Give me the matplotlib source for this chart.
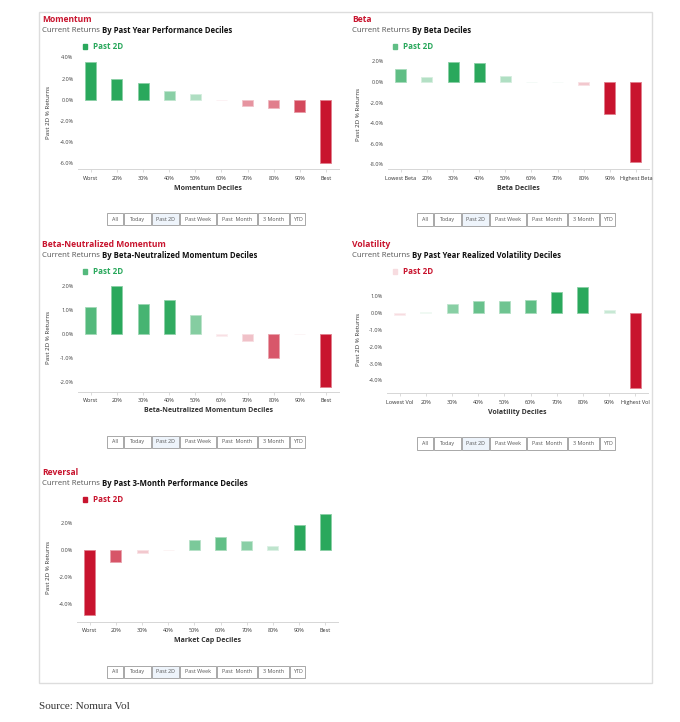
import numpy as np
import matplotlib
matplotlib.use("Agg")
import matplotlib.pyplot as plt
from matplotlib.patches import Rectangle
from matplotlib.colors import to_rgb

plt.rcParams['font.family'] = ['Open Sans', 'DejaVu Sans']

# ---------------- data
deciles = ["Worst", "20%", "30%", "40%", "50%", "60%", "70%", "80%", "90%", "Best"]
beta_labels = ["Lowest Beta", "20%", "30%", "40%", "50%", "60%", "70%", "80%", "90%", "Highest Beta"]
vol_labels = ["Lowest Vol", "20%", "30%", "40%", "50%", "60%", "70%", "80%", "90%", "Highest Vol"]

momentum_vals = [3.60, 1.92, 1.55, 0.79, 0.50, -0.06, -0.63, -0.79, -1.17, -5.96]
beta_vals = [1.27, 0.52, 1.98, 1.82, 0.55, 0.04, 0.0, -0.29, -3.08, -7.82]
bn_momentum_vals = [1.14, 2.00, 1.24, 1.40, 0.78, -0.08, -0.29, -1.00, -0.01, -2.21]
volatility_vals = [-0.08, 0.06, 0.57, 0.75, 0.71, 0.81, 1.27, 1.58, 0.22, -4.42]
reversal_vals = [-4.81, -0.91, -0.22, -0.03, 0.76, 0.93, 0.66, 0.32, 1.87, 2.63]

momentum_ticks = [4, 2, 0, -2, -4, -6]
beta_ticks = [2, 0, -2, -4, -6, -8]
bn_momentum_ticks = [2, 1, 0, -1, -2]
volatility_ticks = [1, 0, -1, -2, -3, -4]
reversal_ticks = [2, 0, -2, -4]

buttons = ["All", "Today", "Past 2D", "Past Week", "Past  Month", "3 Month", "YTD"]
button_widths = [16, 26.4, 27.6, 36, 39.4, 31.3, 15.4]

GREEN = "#2aa85c"
RED = "#c8142e"
W, H = 680, 722

fig = plt.figure(figsize=(W / 100, H / 100), dpi=100)


def fx(x):
    return x / W


def fy(y):
    return 1 - y / H


def blend(c, t):
    c = np.array(to_rgb(c))
    return tuple(1 - t * (1 - c))


def bar_color(v, cap):
    t = min(abs(v) / cap, 1.0)
    t = 0.08 + 0.92 * t
    return blend(GREEN if v >= 0 else RED, t)


renderer = fig.canvas.get_renderer()


def panel(tx, ty, title, sub_plain, sub_bold, labels, vals, ticks, xlabel,
          box, zero_px, px_per, cap):
    # titles
    fig.text(fx(tx), fy(ty), title, color=RED, fontsize=6.1, fontweight="bold", va="center")
    t1 = fig.text(fx(tx), fy(ty + 11.4), sub_plain, color="#555555", fontsize=5.6, va="center")
    wpx = t1.get_window_extent(renderer=renderer).width
    fig.text(fx(tx + wpx), fy(ty + 11.4), sub_bold, color="#111111", fontsize=5.6,
             fontweight="bold", va="center")

    colors = [bar_color(v, cap) for v in vals]
    # legend
    fig.patches.append(Rectangle((fx(tx + 41), fy(ty + 29.5)), 4.4 / W, 4.4 / H,
                                 transform=fig.transFigure, color=colors[0], figure=fig))
    fig.text(fx(tx + 51), fy(ty + 27.4), "Past 2D", color=GREEN if vals[0] >= 0 else RED,
             fontsize=5.8, fontweight="bold", va="center")

    left, top, right, bottom = box
    ax = fig.add_axes([fx(left), fy(bottom), (right - left) / W, (bottom - top) / H])
    x = np.arange(len(vals))
    edges = [blend(c, 0.55) for c in colors]
    ax.bar(x, vals, width=0.42, color=colors, edgecolor=edges, linewidth=0.6)
    ax.set_xlim(-0.5, len(vals) - 0.5)
    ax.set_ylim((zero_px - bottom) / px_per, (zero_px - top) / px_per)
    ax.set_yticks(ticks)
    ax.set_yticklabels([f"{t:.1f}%" for t in ticks], fontsize=4, color="#444444")
    ax.set_xticks(x)
    ax.set_xticklabels(labels, fontsize=4, color="#333333")
    ax.tick_params(axis="y", length=0, pad=3)
    ax.tick_params(axis="x", length=2.2, width=0.5, color="#cccccc", pad=2.5)
    for s in ["top", "right", "left"]:
        ax.spines[s].set_visible(False)
    ax.spines["bottom"].set_color("#d6d6d6")
    ax.spines["bottom"].set_linewidth(0.7)
    ax.patch.set_alpha(0)

    # axis titles
    fig.text(fx((left + right) / 2), fy(bottom + 19), xlabel, fontsize=5,
             fontweight="bold", color="#333333", ha="center", va="center")
    fig.text(fx(tx + 6), fy((top + bottom) / 2 + 0.5), "Past 2D % Returns", fontsize=4.5,
             color="#333333", rotation=90, ha="center", va="center")

    # range buttons
    bx = tx + 65.3
    by = bottom + 44
    for name, bw in zip(buttons, button_widths):
        fc = "#eef4fb" if name == "Past 2D" else "white"
        fig.patches.append(Rectangle((fx(bx), fy(by + 12.5)), bw / W, 12.5 / H,
                                     transform=fig.transFigure, facecolor=fc,
                                     edgecolor="#9a9a9a", linewidth=0.6, figure=fig))
        fig.text(fx(bx + bw / 2), fy(by + 6.2), name, fontsize=3.9, color="#555555",
                 ha="center", va="center")
        bx += bw + 1
    return ax


# card
fig.patches.append(Rectangle((fx(39), fy(683.3)), (652.3 - 39) / W, (683.3 - 11.7) / H,
                             transform=fig.transFigure, facecolor="white",
                             edgecolor="#dddddd", linewidth=1.0, figure=fig, zorder=-5))

panel(42, 19.3, "Momentum", "Current Returns ", "By Past Year Performance Deciles",
      deciles, momentum_vals, momentum_ticks, "Momentum Deciles",
      (77.7, 55, 339, 169), 99.7, 10.57, 1.55)
panel(352, 19.3, "Beta", "Current Returns ", "By Beta Deciles",
      beta_labels, beta_vals, beta_ticks, "Beta Deciles",
      (387.7, 58, 649, 169.3), 82.0, 10.26, 1.75)
panel(42, 244.3, "Beta-Neutralized Momentum", "Current Returns ",
      "By Beta-Neutralized Momentum Deciles",
      deciles, bn_momentum_vals, bn_momentum_ticks, "Beta-Neutralized Momentum Deciles",
      (77.7, 283, 339, 391.7), 334.0, 24.1, 1.45)
panel(352, 244.3, "Volatility", "Current Returns ", "By Past Year Realized Volatility Deciles",
      vol_labels, volatility_vals, volatility_ticks, "Volatility Deciles",
      (386.7, 284, 648.3, 393.3), 313.3, 16.8, 1.1)
panel(42, 472.3, "Reversal", "Current Returns ", "By Past 3-Month Performance Deciles",
      deciles, reversal_vals, reversal_ticks, "Market Cap Deciles",
      (76.7, 512, 338.3, 621.7), 550.0, 13.6, 1.3)

fig.text(fx(39), fy(706.7), "Source: Nomura Vol", family="Liberation Serif", fontsize=8,
         color="#333333", va="center")

fig.savefig("out.png", dpi=100)
